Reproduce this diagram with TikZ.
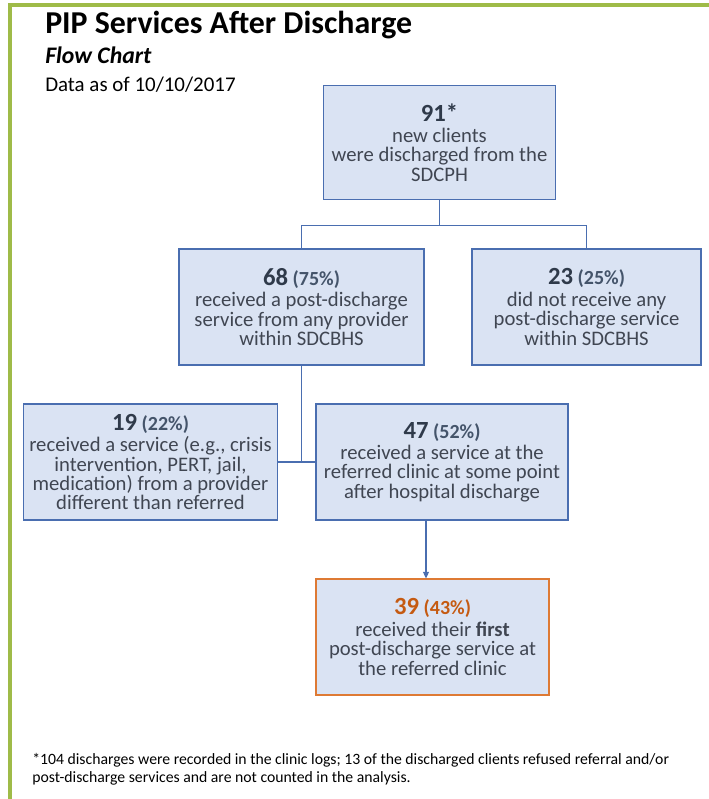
\documentclass[tikz,border=0pt]{standalone}
\usepackage{fontspec}
\setmainfont{Carlito}
\usepackage{tikz}
\usetikzlibrary{arrows.meta}
\definecolor{framegreen}{RGB}{159,187,72}
\definecolor{boxfill}{RGB}{218,227,243}
\definecolor{boxline}{RGB}{74,110,176}
\definecolor{boxorange}{RGB}{222,122,52}
\definecolor{numdark}{RGB}{47,58,74}
\definecolor{pctgray}{RGB}{68,84,106}
\definecolor{bodygray}{RGB}{64,70,82}
\definecolor{numorange}{RGB}{197,90,17}
\tikzset{
  statbox/.style={rectangle, draw=boxline, fill=boxfill, line width=0.8pt, inner sep=0pt, minimum height=87pt, align=center, text=bodygray, font=\fontsize{15.5}{14.6}\selectfont},
  link/.style={draw=boxline, line width=0.9pt},
  heading/.style={anchor=base west, inner sep=0pt, text=black}
}
\newcommand{\pipstatnode}[5] {\node at (#1) (#2) [statbox, minimum width=#3*0.75pt, #4] {#5};}
\newcommand{\pipcount}[4] {{\color{#3}\bfseries\fontsize{18.5}{20}\selectfont #1} {\color{#4}\bfseries\fontsize{15}{15}\selectfont (#2)}}

\begin{document}
\begin{tikzpicture}[x=0.75pt, y=-0.75pt]
\useasboundingbox (0,0) rectangle (709,799);

\draw [framegreen, line width=3pt] (709,5) -- (10,5) -- (10,799);

\node [heading, font=\fontsize{23.9}{28}\selectfont\bfseries] (title) at (45,34) {PIP Services After Discharge};
\node [heading, font=\fontsize{17.8}{21}\selectfont\bfseries\itshape] (subtitle) at (45,64) {Flow Chart};
\node [heading, font=\fontsize{15.7}{19}\selectfont] (asof) at (45,92) {Data as of 10/10/2017};

\pipstatnode {439.5,142.5} {n91} {232} {minimum height=86pt} {{\color{numdark}\bfseries\fontsize{18.5}{20}\selectfont 91*}\\[1.5pt] new clients\\ were discharged from the\\ SDCPH};
\pipstatnode {301.5,307} {n68} {245} {} {\pipcount{68}{75\%}{numdark}{pctgray}\\[1.5pt] received a post-discharge\\ service from any provider\\ within SDCBHS};
\pipstatnode {586.5,307} {n23} {229} {} {\pipcount{23}{25\%}{numdark}{pctgray}\\[1.5pt] did not receive any\\ post-discharge service\\ within SDCBHS};
\pipstatnode {150.5,462} {n19} {254} {} {\pipcount{19}{22\%}{numdark}{pctgray}\\[1.5pt] received a service (e.g., crisis\\ intervention, PERT, jail,\\ medication) from a provider\\ different than referred};
\pipstatnode {442,462} {n47} {252} {} {\pipcount{47}{52\%}{numdark}{pctgray}\\[1.5pt] received a service at the\\ referred clinic at some point\\ after hospital discharge};
\pipstatnode {432.5,637} {n39} {233} {draw=boxorange} {\pipcount{39}{43\%}{numorange}{numorange}\\[1.5pt] received their \textbf{first}\\ post-discharge service at\\ the referred clinic};

\coordinate (split) at ([yshift=-18.75pt]n91.south);
\draw [link] (n91.south) -- (split);
\draw [link] (split) -| (n68.north);
\draw [link] (split) -| (n23.north);
\draw [link] (n68.south) -- (n68.south |- n19.east);
\draw [link] (n19.east) -- (n47.west);
\draw [link, -{Triangle[length=5pt, width=4.5pt]}] ([xshift=-12pt]n47.south) -- ([xshift=-12pt]n47.south |- n39.north);

\node [heading, align=left, font=\fontsize{11.8}{13.5}\selectfont] (note) at (32,782) {*104 discharges were recorded in the clinic logs; 13 of the discharged clients refused referral and/or\\ post-discharge services and are not counted in the analysis.};
\end{tikzpicture}
\end{document}
